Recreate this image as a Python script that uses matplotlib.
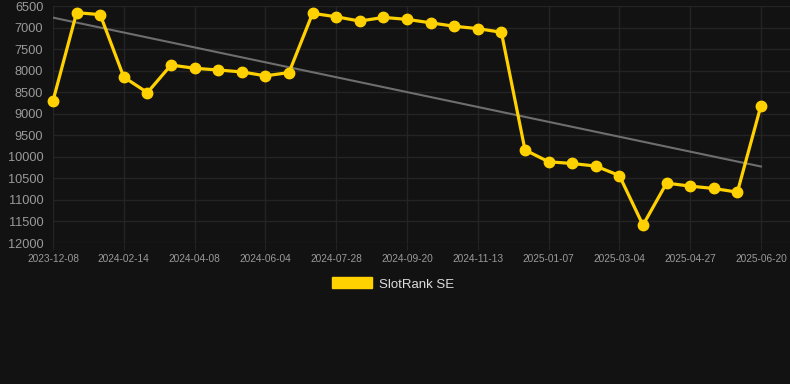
import numpy as np
import matplotlib
matplotlib.use('Agg')
import matplotlib.pyplot as plt
from matplotlib.patches import Patch

# rank values, one per sample (categorical x axis)
ranks = [8700, 6655, 6700, 8150, 8510, 7870, 7945, 7985, 8030, 8120,
         8045, 6670, 6750, 6850, 6765, 6810, 6890, 6970, 7025, 7110,
         9840, 10115, 10155, 10215, 10435, 11585, 10610, 10680, 10735, 10820,
         8810]
tick_labels = ['2023-12-08', '2024-02-14', '2024-04-08', '2024-06-04',
               '2024-07-28', '2024-09-20', '2024-11-13', '2025-01-07',
               '2025-03-04', '2025-04-27', '2025-06-20']
trend_start = 6770
trend_end = 10225

bg = '#121212'
gold = '#FFD100'

fig = plt.figure(figsize=(7.9, 3.84), dpi=100, facecolor=bg)
ax = fig.add_axes([53 / 790, 1 - 243 / 384, 1 - 53 / 790, (243 - 6) / 384])
ax.set_facecolor(bg)

x = np.arange(len(ranks))
ax.plot([x[0], x[-1]], [trend_start, trend_end], color='#6e6e6e', lw=1.5, zorder=2)
ax.plot(x, ranks, color=gold, lw=2.3, marker='o', ms=7.5, zorder=3, clip_on=False)

ax.set_xlim(0, 31.23)
ax.set_ylim(12000, 6500)
ax.set_yticks(np.arange(6500, 12001, 500))
ax.set_xticks(x[::3])
ax.set_xticklabels(tick_labels)

ax.grid(True, color='#242424', lw=1)
ax.set_axisbelow(True)
for s in ax.spines.values():
    s.set_visible(False)
ax.tick_params(axis='y', length=0, pad=7, labelsize=9.2, labelcolor='#9a9a9a')
ax.tick_params(axis='x', length=5, color='#242424', pad=3, labelsize=7.3, labelcolor='#9a9a9a')
for lab in ax.get_xticklabels() + ax.get_yticklabels():
    lab.set_family('Liberation Sans')

handle = Patch(facecolor=gold, edgecolor=gold)
fig.legend([handle], ['SlotRank SE'], loc='center', bbox_to_anchor=(393 / 790, 1 - 284 / 384),
           frameon=False, handlelength=3.0, handleheight=0.9, handletextpad=0.5,
           prop={'family': 'Liberation Sans', 'size': 9.5}, labelcolor='#dddddd')

fig.savefig('out.png', dpi=100, facecolor=bg)
